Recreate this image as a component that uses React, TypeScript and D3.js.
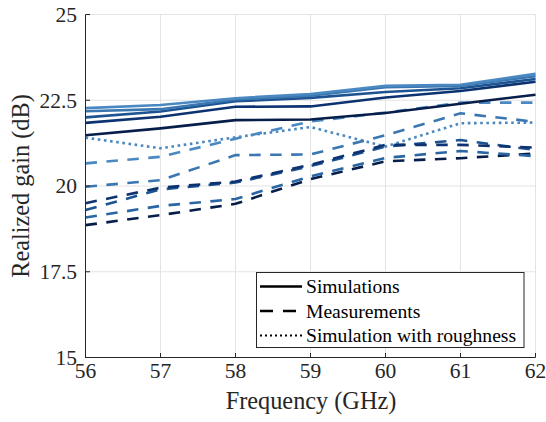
import React from "react";
import * as d3 from "d3";

const freqs = [56, 57, 58, 59, 60, 61, 62];

const simSeries = [
  { color: "#071d4a", values: [21.48, 21.68, 21.92, 21.94, 22.13, 22.4, 22.66] },
  { color: "#0d3270", values: [21.84, 22.02, 22.31, 22.32, 22.58, 22.77, 23.04] },
  { color: "#1e5391", values: [22.0, 22.17, 22.47, 22.57, 22.74, 22.85, 23.12] },
  { color: "#3a76b0", values: [22.18, 22.24, 22.52, 22.63, 22.88, 22.92, 23.2] },
  { color: "#4a88c2", values: [22.27, 22.36, 22.56, 22.68, 22.92, 22.95, 23.27] },
];

const measSeries = [
  { color: "#071d4a", values: [18.86, 19.15, 19.48, 20.2, 20.72, 20.81, 20.95] },
  { color: "#2a66a3", values: [19.08, 19.42, 19.62, 20.28, 20.82, 21.02, 20.87] },
  { color: "#1e5391", values: [19.3, 19.9, 20.1, 20.58, 21.15, 21.34, 21.05] },
  { color: "#0d3270", values: [19.5, 19.95, 20.13, 20.62, 21.2, 21.2, 21.12] },
  { color: "#3a76b0", values: [19.98, 20.17, 20.9, 20.92, 21.48, 22.12, 21.87] },
  { color: "#4a88c2", values: [20.66, 20.85, 21.38, 21.88, 22.14, 22.43, 22.43] },
];

const roughSeries = [
  { color: "#4a88c2", values: [21.41, 21.1, 21.42, 21.72, 21.15, 21.83, 21.85] },
];

const xTicks = [56, 57, 58, 59, 60, 61, 62];
const yTicks = [15, 17.5, 20, 22.5, 25];
const yTickLabels = ["15", "17.5", "20", "22.5", "25"];

const legendItems = [
  { label: "Simulations", dash: "" },
  { label: "Measurements", dash: "13,10" },
  { label: "Simulation with roughness", dash: "2,3" },
];

const W = 546;
const H = 422;
const M = { left: 85.5, right: 535.5, top: 14.5, bottom: 357.5 };
const FONT = "'Liberation Serif', 'Times New Roman', serif";

export default function App() {
  const x = d3.scaleLinear().domain([56, 62]).range([M.left, M.right]);
  const y = d3.scaleLinear().domain([15, 25]).range([M.bottom, M.top]);
  const line = d3
    .line<number>()
    .x((_, i) => x(freqs[i]))
    .y((d) => y(d));

  const lx0 = 256.5;
  const ly0 = 272.5;
  const lw = 267.5;
  const lh = 75;

  return (
    <svg
      width={W}
      height={H}
      style={{ position: "absolute", left: 0, top: 0, background: "#fff" }}
      fontFamily={FONT}
    >
      <rect x={0} y={0} width={W} height={H} fill="#fff" />
      <g stroke="#e3e3e3" strokeWidth={1}>
        {xTicks.map((t) => (
          <line key={"gx" + t} x1={x(t)} x2={x(t)} y1={M.top} y2={M.bottom} />
        ))}
        {yTicks.map((t) => (
          <line key={"gy" + t} x1={M.left} x2={M.right} y1={y(t)} y2={y(t)} />
        ))}
      </g>
      <g fill="none" strokeWidth={2.6}>
        {roughSeries.map((s, i) => (
          <path key={"r" + i} d={line(s.values) || ""} stroke={s.color} strokeDasharray="2.6,3.6" />
        ))}
        {measSeries.map((s, i) => (
          <path key={"m" + i} d={line(s.values) || ""} stroke={s.color} strokeDasharray="11.5,9.5" />
        ))}
        {simSeries.map((s, i) => (
          <path key={"s" + i} d={line(s.values) || ""} stroke={s.color} />
        ))}
      </g>
      <g stroke="#262626" strokeWidth={1}>
        <line x1={M.left} x2={M.left} y1={M.top} y2={M.bottom + 0.5} />
        <line x1={M.left} x2={M.right} y1={M.bottom} y2={M.bottom} />
        {xTicks.map((t) => (
          <line key={"tx" + t} x1={x(t)} x2={x(t)} y1={M.bottom} y2={M.bottom - 4.5} />
        ))}
        {yTicks.map((t) => (
          <line key={"ty" + t} x1={M.left} x2={M.left + 4.5} y1={y(t)} y2={y(t)} />
        ))}
      </g>
      <g fill="#262626" fontSize={21.5}>
        {xTicks.map((t) => (
          <text key={"lx" + t} x={x(t)} y={377.5} textAnchor="middle">
            {t}
          </text>
        ))}
        {yTicks.map((t, i) => (
          <text key={"ly" + t} x={77} y={y(t) + 7.3} textAnchor="end">
            {yTickLabels[i]}
          </text>
        ))}
      </g>
      <text x={(M.left + M.right) / 2 + 0.5} y={409} textAnchor="middle" fontSize={24.3} fill="#262626">
        Frequency (GHz)
      </text>
      <text
        transform={`translate(29,${(M.top + M.bottom) / 2}) rotate(-90)`}
        textAnchor="middle"
        fontSize={24.3}
        fill="#262626"
      >
        Realized gain (dB)
      </text>
      <rect x={lx0} y={ly0} width={lw} height={lh} fill="#fff" stroke="#262626" strokeWidth={1} />
      {legendItems.map((it, i) => {
        const cy = 286.5 + i * 24.5;
        return (
          <g key={"leg" + i}>
            <line
              x1={260}
              x2={302}
              y1={cy}
              y2={cy}
              stroke="#000"
              strokeWidth={i === 2 ? 1.8 : 2.5}
              strokeDasharray={it.dash || undefined}
            />
            <text x={306} y={cy + 6.5} fontSize={19.6} fill="#000">
              {it.label}
            </text>
          </g>
        );
      })}
    </svg>
  );
}
